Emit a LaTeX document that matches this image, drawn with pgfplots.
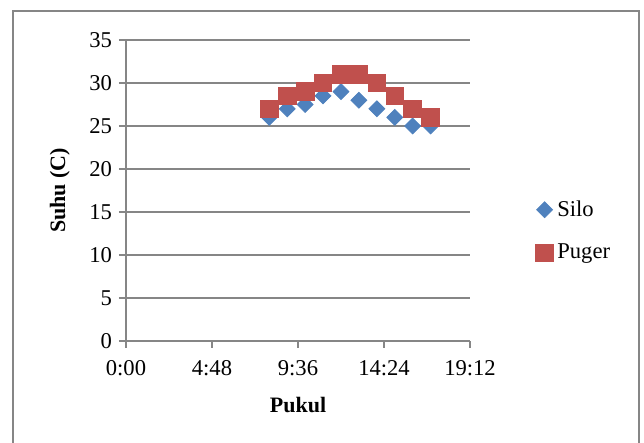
\documentclass[border=0pt]{standalone}
\usepackage{fontspec}
\setmainfont{Liberation Serif}
\usepackage{pgfplots}
\pgfplotsset{compat=1.18}
\definecolor{silo}{HTML}{4F81BD}
\definecolor{puger}{HTML}{C0504D}
\definecolor{gridc}{HTML}{868686}
\begin{document}
\begin{tikzpicture}[font=\fontsize{11}{13}\selectfont]
\useasboundingbox (0,0) rectangle (322pt,221.5pt);
\draw[gridc, line width=0.8pt] (6.5pt,-5pt) -- (6.5pt,216pt) -- (319.5pt,216pt) -- (319.5pt,-5pt);
\begin{axis}[
  at={(63pt,51pt)}, anchor=south west,
  scale only axis, width=172pt, height=150.5pt,
  xmin=0, xmax=19.2, ymin=0, ymax=35,
  xtick={0,4.8,9.6,14.4,19.2},
  xticklabels={0:00,4:48,9:36,14:24,19:12},
  ytick={0,5,10,15,20,25,30,35},
  axis x line*=bottom, axis y line*=left,
  axis line style={gridc, line width=0.8pt},
  ymajorgrids, major grid style={gridc, line width=0.8pt},
  tick align=outside, major tick length=3.5pt,
  tick style={gridc, line width=0.8pt},
  /pgf/number format/assume math mode=true,
  tick label style={font=\fontsize{11.3}{13}\selectfont, text=black},
  xticklabel style={yshift=-2.5pt},
  xlabel={\textbf{Pukul}}, ylabel={\textbf{Suhu (C)}},
  label style={font=\fontsize{11}{13}\selectfont},
  xlabel style={at={(axis description cs:0.5,-0.213)}, anchor=center},
  ylabel style={at={(axis description cs:-0.192,0.5)}, anchor=center},
  legend style={at={(rel axis cs:1.19,0.365)}, anchor=west, draw=none, fill=none,
    font=\fontsize{11.3}{13}\selectfont, row sep=8.5pt, inner sep=0pt},
  legend cell align=left,
  legend image code/.code={\draw[#1] (0.25em,0) -- plot coordinates {(0.25em,0)};},
  clip=false,
]
\addplot[only marks, mark=square*, mark size=2.8pt, mark options={rotate=45, fill=silo, draw=silo}]
  coordinates {(8,26) (9,27) (10,27.5) (11,28.5) (12,29) (13,28) (14,27) (15,26) (16,25) (17,25)};
\addlegendentry{Silo}
\addplot[only marks, mark=square*, mark size=4.4pt, mark options={fill=puger, draw=puger}]
  coordinates {(8,27) (9,28.5) (10,29) (11,30) (12,31) (13,31) (14,30) (15,28.5) (16,27) (17,26)};
\addlegendentry{Puger}
\end{axis}
\end{tikzpicture}
\end{document}
